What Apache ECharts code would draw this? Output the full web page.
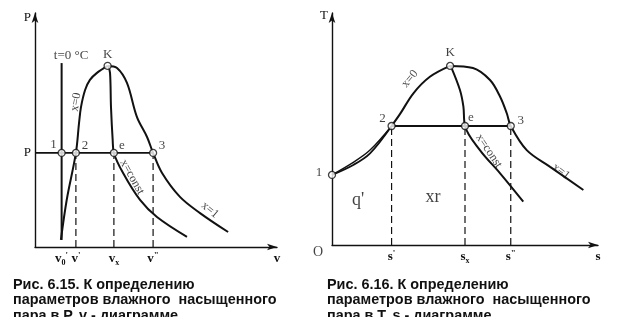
<!DOCTYPE html>
<html><head><meta charset="utf-8">
<script src="https://cdn.jsdelivr.net/npm/echarts@6/dist/echarts.min.js"></script>
<style>html,body{margin:0;padding:0;background:#fff}#c{width:626px;height:332px}</style>
</head><body><div id="c"></div>
<script>
// ---------- P-v diagram (arbitrary units 0..100) ----------
const pvLiquid = [[10.7,3.0],[13.1,20.1],[16.9,40.2],[18.2,53.0],[19.0,59.8],[20.7,67.1],[22.7,71.4],[25.6,74.4],[30.0,77.4]];
const pvVapor = [[30.0,77.4],[33.9,76.5],[38.0,70.1],[42.1,55.6],[46.3,47.0],[48.8,40.2],[52.5,31.6],[59.9,21.4],[68.2,14.5],[79.8,6.4]];
const pvConst = [[30.2,77.6],[31.0,74.4],[31.4,59.8],[32.1,45.7],[32.6,40.2],[36.4,31.6],[43.4,20.1],[50.4,12.8],[62.8,4.3]];
const pvIsoV = 11.0, pvIsoP = [3.0, 78.6];
const pvSatP = 40.2;
const pvStateNames = ['1','2','e','3'];
const pvStateV = [11.0, 16.9, 32.6, 48.8];
const pvK = [30.0, 77.4];
const pvDashedV = [16.9, 32.6, 48.8];
const pvTickV = [11.0, 16.9, 32.6, 48.8, 100];
const pvTickLbl = ["{b|v}{sub|0}{sup|'}", "{b|v}{sup|'}", "{b|v}{sub|x}", "{b|v}{sup|\"}", "{b|v}"];
const pvYTickV = [40.2, 98];
const pvYTickLbl = ['P', 'P'];
const pvNotes = ['t=0 °C', 'x=0', 'x=const', 'x=1'];
const pvNotesAt = [[14.9, 82.0], [16.9, 62.0], [40.1, 29.9], [72.3, 15.8]];
const pvNotesRot = [0, 80, -61, -40];

// ---------- T-s diagram ----------
const tsLiquidLow = [[0,30.2],[8.0,34.5],[14.3,39.5],[22.4,51.3]];
const tsLiquidUp = [[0,30.2],[8.0,35.6],[14.3,40.9],[22.4,51.3]];
const tsLiquid = [[22.4,51.3],[25.6,56.5],[30.6,65.4],[36.8,72.5],[44.4,77.2]];
const tsVapor = [[44.4,77.2],[53.0,76.3],[59.4,71.1],[63.2,63.9],[65.7,56.8],[67.2,51.3],[73.2,40.9],[82.0,33.7],[94.5,23.7]];
const tsConst = [[44.6,77.2],[48.1,66.8],[49.4,59.6],[50.0,51.3],[55.6,40.9],[63.2,30.9],[71.9,18.7]];
const tsSatT = 51.3;
const tsStateNames = ['2','e','3'];
const tsStateS = [22.4, 50.0, 67.2];
const tsPoint1 = [0, 30.2];
const tsK = [44.4, 77.2];
const tsDashedS = [22.4, 50.0, 67.2];
const tsTickV = [22.4, 50.0, 67.2, 100];
const tsTickLbl = ["{b|s}{sup|'}", "{b|s}{sub|x}", "{b|s}{sup|\"}", "{b|s}"];
const tsYTickV = [99];
const tsYTickLbl = ['T'];
const tsNotes = ['x=0', 'x=const', 'x=1', "q'", 'xr'];
const tsNotesAt = [[29.3, 71.6], [59.0, 40.5], [86.1, 31.7], [9.8, 19.4], [38.0, 20.7]];
const tsNotesRot = [50, -56, -38, 0, 0];

const captionLeft = ['Рис. 6.15. К определению', 'параметров влажного  насыщенного', 'пара в P, v - диаграмме'];
const captionRight = ['Рис. 6.16. К определению', 'параметров влажного  насыщенного', 'пара в T, s - диаграмме'];

// ---------- build ----------
const INK = '#111';
const SERIF = '"Liberation Serif","DejaVu Serif",serif';
const richTick = {
  b: {fontFamily: SERIF, fontSize: 13, fontWeight: 'bold', color: INK, verticalAlign: 'middle', lineHeight: 16},
  sub: {fontFamily: SERIF, fontSize: 8, fontWeight: 'bold', color: INK, verticalAlign: 'bottom'},
  sup: {fontFamily: SERIF, fontSize: 9, fontWeight: 'bold', color: INK, verticalAlign: 'top'}
};
function axisLine() {
  return {show: true, symbol: ['none', 'arrow'], symbolSize: [5, 10], lineStyle: {color: INK, width: 1.4}};
}
function xAxis(gi, ticks, labels) {
  return {gridIndex: gi, type: 'value', min: 0, max: 100, axisLine: axisLine(),
    axisTick: {show: false}, splitLine: {show: false},
    axisLabel: {customValues: ticks, margin: 4, rich: richTick,
      formatter: v => labels[ticks.indexOf(v)] || ''}};
}
function yAxis(gi, ticks, labels) {
  return {gridIndex: gi, type: 'value', min: 0, max: 100, axisLine: axisLine(),
    axisTick: {show: false}, splitLine: {show: false},
    axisLabel: {customValues: ticks, margin: 4, fontFamily: SERIF, fontSize: 13, color: INK,
      formatter: v => labels[ticks.indexOf(v)] || ''}};
}
function curve(gi, data, width) {
  return {type: 'line', xAxisIndex: gi, yAxisIndex: gi, data: data, smooth: 0.35, showSymbol: false,
    lineStyle: {color: INK, width: width || 2}, z: 3, silent: true};
}
function straight(gi, data, width, dashed) {
  return {type: 'line', xAxisIndex: gi, yAxisIndex: gi, data: data, showSymbol: false,
    lineStyle: {color: INK, width: width, type: dashed ? [7, 4] : 'solid'}, z: 2, silent: true};
}
function points(gi, items) {
  return {type: 'scatter', xAxisIndex: gi, yAxisIndex: gi, symbol: 'circle', symbolSize: 7, z: 10,
    itemStyle: {color: '#fff', borderColor: INK, borderWidth: 1.3},
    label: {show: true, position: 'inside', formatter: '{b}', fontFamily: SERIF, fontSize: 13, color: INK},
    data: items, silent: true};
}
function notes(gi, texts, at, rot, sizes) {
  return {type: 'scatter', xAxisIndex: gi, yAxisIndex: gi, symbolSize: 1, z: 11,
    itemStyle: {color: 'rgba(0,0,0,0)'}, silent: true,
    data: texts.map((t, i) => ({name: t, value: at[i],
      label: {show: true, position: 'inside', formatter: '{b}', rotate: rot[i],
        fontFamily: SERIF, fontSize: sizes[i], color: INK}}))};
}

const pvOffsets = [[-8, -8], [9, -7], [8, -7], [9, -7]];
const tsOffsets = [[-9, -7], [6, -8], [10, -5]];

const series = [
  // P-v
  curve(0, pvLiquid, 2), curve(0, pvVapor, 2), curve(0, pvConst, 2),
  straight(0, [[pvIsoV, pvIsoP[0]], [pvIsoV, pvIsoP[1]]], 2, false),
  straight(0, [[0, pvSatP], [pvStateV[3], pvSatP]], 1.8, false),
  ...pvDashedV.map(v => straight(0, [[v, 0], [v, pvSatP]], 1.2, true)),
  points(0, pvStateNames.map((n, i) => ({name: n, value: [pvStateV[i], pvSatP], label: {offset: pvOffsets[i]}}))
    .concat([{name: 'K', value: pvK, label: {offset: [0, -11]}}])),
  notes(0, pvNotes, pvNotesAt, pvNotesRot, [13, 12, 12, 12]),
  // T-s
  curve(1, tsLiquidLow, 1.8), curve(1, tsLiquidUp, 1.4), curve(1, tsLiquid, 2), curve(1, tsVapor, 2), curve(1, tsConst, 2),
  straight(1, [[tsStateS[0], tsSatT], [tsStateS[2], tsSatT]], 1.8, false),
  ...tsDashedS.map(s => straight(1, [[s, 0], [s, tsSatT]], 1.2, true)),
  points(1, tsStateNames.map((n, i) => ({name: n, value: [tsStateS[i], tsSatT], label: {offset: tsOffsets[i]}}))
    .concat([{name: '1', value: tsPoint1, label: {offset: [-13, -2]}}, {name: 'K', value: tsK, label: {offset: [0, -13]}}])),
  notes(1, tsNotes, tsNotesAt, tsNotesRot, [12, 12, 12, 18, 18]),
  notes(1, ['O'], [[0, 0]], [0], [14])
];
series[series.length - 1].data[0].label.offset = [-14, 7];

const CAPFONT = 'bold 15px "Liberation Sans", Arial, sans-serif';
const graphic = [];
[[captionLeft, 13], [captionRight, 327]].forEach(([lines, x]) => {
  lines.forEach((t, i) => graphic.push({type: 'text', x: x, y: 277 + i * 15.5, scaleX: 0.96, z: 1,
    style: {text: t, font: CAPFONT, fill: INK, textVerticalAlign: 'top'}}));
});
graphic.push({type: 'rect', shape: {x: 0, y: 317, width: 626, height: 15}, style: {fill: '#fff'}, z: 5});

const chart = echarts.init(document.getElementById('c'), null, {renderer: 'canvas'});
chart.setOption({
  animation: false,
  backgroundColor: '#fff',
  grid: [{left: 35, top: 13, width: 242, height: 234}, {left: 332, top: 13, width: 266, height: 232}],
  xAxis: [xAxis(0, pvTickV, pvTickLbl), xAxis(1, tsTickV, tsTickLbl)],
  yAxis: [yAxis(0, pvYTickV, pvYTickLbl), yAxis(1, tsYTickV, tsYTickLbl)],
  series: series,
  graphic: graphic
});
</script></body></html>
